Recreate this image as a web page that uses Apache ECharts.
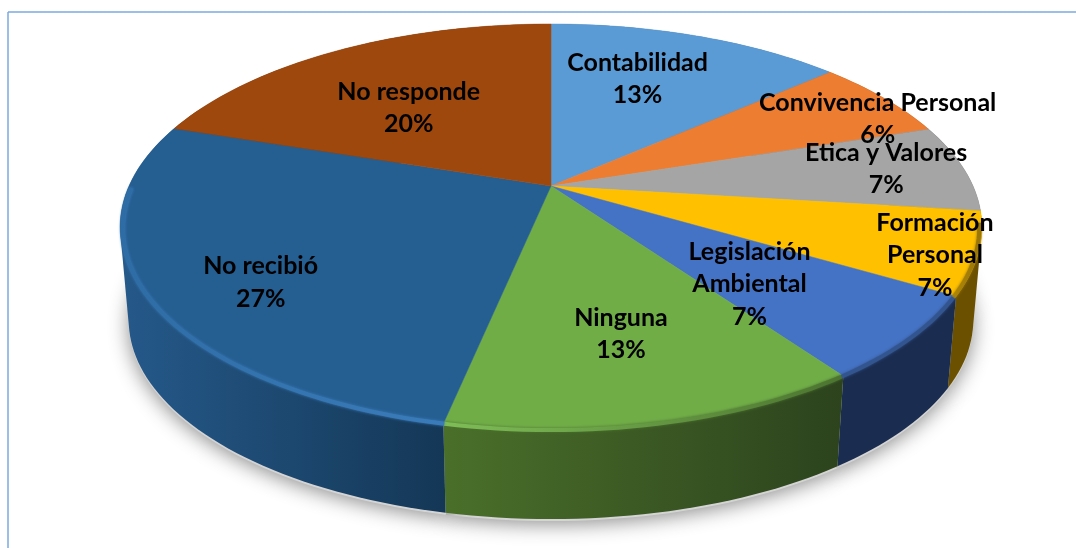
<!DOCTYPE html>
<html>
<head>
<meta charset="utf-8">
<style>html,body{margin:0;padding:0;background:#fff}#c{width:1076px;height:548px}</style>
<script src="https://cdn.jsdelivr.net/npm/echarts@6/dist/echarts.min.js"></script>
</head>
<body>
<div id="c"></div>
<script>
// ---- data ----
const categories = ['Contabilidad','Convivencia Personal','Etica y Valores','Formación\nPersonal','Legislación\nAmbiental','Ninguna','No recibió','No responde'];
const shares     = [13.49, 6.49, 7.0, 6.5, 6.7, 13.1, 26.8, 19.92];
const percentLabels = ['13%','6%','7%','7%','7%','13%','27%','20%'];
// ---- styling ----
const topColors  = ['#5B9BD5','#ED7D31','#A5A5A5','#FFC000','#4472C4','#70AD47','#255E91','#9E480E'];
const wallStops  = [['#3a6285','#3a6285'],['#7a3f18','#7a3f18'],['#4a4a4a','#5c5c5c'],['#6b5000','#6b5000'],['#1a2c50','#1a2c50'],['#4a6f2a','#2c431d'],['#25598a','#143756'],['#4e2407','#4e2407']];
const rimStops   = [['#5B9BD5','#5B9BD5'],['#ED7D31','#ED7D31'],['#7a7a7a','#7a7a7a'],['#b08806','#97740a'],['#33558f','#33558f'],['#7fbe57','#4c7430'],['#2e6ca5','#3a7cba'],['#9E480E','#9E480E']];
// label nudges from each slice's mid-radius point (px)
const labelNudges = [[-21,3],[87,-4],[45,-4],[91,23],[-42,-4],[0,-7],[-15,23],[13,21]];

// ---- projection of the pie disc ----
const CX = 551, CY = 186, A = 422, B = 194.7, P = 0.2019, DEPTH = 94, FLOOR_SCALE = 0.98, STEP = 1.5, RIM_R = 0.994;
function project(deg, r) {
  const t = deg * Math.PI / 180, u = r * Math.sin(t), v = -r * Math.cos(t), d = 1 - P * v;
  return [CX + A * u / d, CY + B * v / d];
}
function floor(pt) {
  return [CX + (pt[0] - CX) * FLOOR_SCALE, CY + DEPTH + (pt[1] - CY) * FLOOR_SCALE];
}
function arc(a0, a1, r) {
  const pts = [];
  const n = Math.max(2, Math.ceil((a1 - a0) / STEP));
  for (let i = 0; i <= n; i++) pts.push(project(a0 + (a1 - a0) * i / n, r === undefined ? 1 : r));
  return pts;
}
// convex hull of the rim and floor arcs: the part past the wall lies under the top face
function hull(points) {
  const p = points.slice().sort((a, b) => a[0] - b[0] || a[1] - b[1]);
  const cross = (o, a, b) => (a[0] - o[0]) * (b[1] - o[1]) - (a[1] - o[1]) * (b[0] - o[0]);
  const half = list => {
    const out = [];
    list.forEach(q => {
      while (out.length > 1 && cross(out[out.length - 2], out[out.length - 1], q) <= 0) out.pop();
      out.push(q);
    });
    out.pop();
    return out;
  };
  return half(p).concat(half(p.slice().reverse()));
}
const total = shares.reduce((a, b) => a + b, 0);
let run = 0;
const sliceData = shares.map((s, i) => {
  const a0 = run / total * 360; run += s; const a1 = run / total * 360;
  return { name: categories[i].replace('\n', ' '), value: [a0, a1, i, s] };
});
function grad(c) {
  return new echarts.graphic.LinearGradient(0, 0, 1, 0, [{offset: 0, color: c[0]}, {offset: 1, color: c[1]}]);
}
const base = { type: 'custom', coordinateSystem: 'none', silent: true, animation: false, data: sliceData, clip: false };

const option = {
  animation: false,
  backgroundColor: '#ffffff',
  graphic: [
    { type: 'line', silent: true, shape: {x1: 8, y1: 12, x2: 8, y2: 548}, style: {stroke: '#7AAADE', lineWidth: 1.5} },
    { type: 'line', silent: true, shape: {x1: 8, y1: 12, x2: 1076, y2: 12}, style: {stroke: '#7AAADE', lineWidth: 1.5} }
  ],
  series: [
    // soft drop shadow under the cake
    Object.assign({}, base, { name: 'shadow', z: 1, renderItem(params, api) {
      const pts = arc(api.value(0), api.value(1)).map(floor).map(p => [p[0], p[1] + 2]);
      pts.push(floor([CX, CY]));
      return { type: 'polygon', shape: {points: pts}, style: {fill: '#d4d4d4', shadowBlur: 20, shadowOffsetY: 3, shadowColor: 'rgba(0,0,0,0.45)'} };
    }}),
    // outer walls
    Object.assign({}, base, { name: 'walls', z: 2, renderItem(params, api) {
      const i = api.value(2), top = arc(api.value(0), api.value(1));
      return { type: 'polygon', shape: {points: hull(top.concat(top.map(floor)))}, style: {fill: grad(wallStops[i])} };
    }}),
    // top face
    Object.assign({}, base, { name: 'Temas', z: 3, renderItem(params, api) {
      const i = api.value(2), pts = arc(api.value(0), api.value(1));
      pts.push([CX, CY]);
      return { type: 'polygon', shape: {points: pts}, style: {fill: topColors[i], stroke: topColors[i], lineWidth: 0.5} };
    }}),
    // bevel rim on the camera-facing edge
    Object.assign({}, base, { name: 'rim', z: 4, renderItem(params, api) {
      const i = api.value(2), a0 = Math.max(api.value(0), 100), a1 = Math.min(api.value(1), 270);
      if (a1 <= a0) return null;
      const pts = arc(a0, a1, RIM_R).map(p => [p[0], p[1] + 2]);
      return { type: 'polyline', shape: {points: pts}, style: {fill: null, stroke: grad(rimStops[i]), lineWidth: 4, shadowBlur: 3, shadowColor: rimStops[i][1], lineCap: 'butt'} };
    }}),
    // data labels
    Object.assign({}, base, { name: 'labels', z: 5, renderItem(params, api) {
      const i = api.value(2), mid = (api.value(0) + api.value(1)) / 2, p = project(mid, 0.7), n = labelNudges[i];
      return { type: 'text', style: {
        text: categories[i] + '\n' + percentLabels[i], x: p[0] + n[0], y: p[1] + n[1],
        fill: '#000', fontFamily: 'Lato', fontWeight: 'bold', fontSize: 25, lineHeight: 32.5,
        align: 'center', verticalAlign: 'middle'
      } };
    }})
  ]
};
const chart = echarts.init(document.getElementById('c'), null, {renderer: 'canvas'});
chart.setOption(option);
</script>
</body>
</html>
